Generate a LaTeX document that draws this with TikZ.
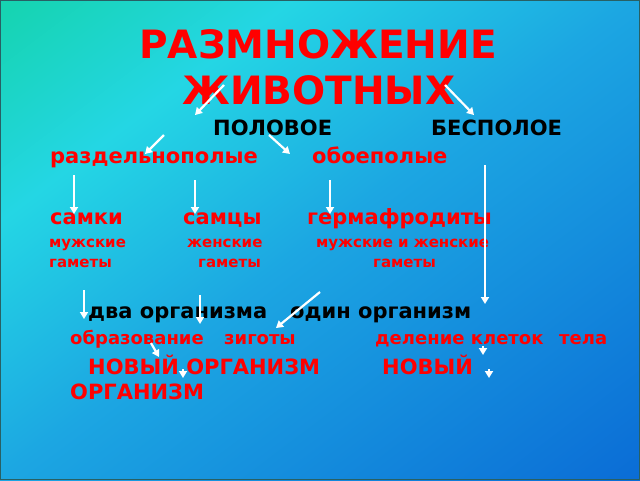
\documentclass[tikz,border=0pt]{standalone}
\usepackage{fontspec}
\setmainfont{DejaVu Sans}
\usetikzlibrary{arrows.meta}
\definecolor{bgteal}{RGB}{22,212,178}
\definecolor{bgcyan}{RGB}{36,214,228}
\definecolor{bgmid}{RGB}{28,166,226}
\definecolor{bgblue}{RGB}{8,100,212}
\definecolor{framec}{RGB}{40,96,100}
\pgfdeclarehorizontalshading{bgshade}{100bp}{color(0bp)=(bgteal); color(16bp)=(bgteal); color(31bp)=(bgcyan); color(50bp)=(bgmid); color(90bp)=(bgblue); color(100bp)=(bgblue)}

\begin{document}
\begin{tikzpicture}[x=1pt, y=-1pt,
		lbl/.style={inner sep=0pt, anchor=base west, font=\bfseries\fontsize{21}{25}\selectfont},
		redlbl/.style={lbl, text=red},
		blacklbl/.style={lbl, text=black},
		smalllbl/.style={redlbl, font=\bfseries\fontsize{15}{18}\selectfont},
		midlbl/.style={redlbl, font=\bfseries\fontsize{18}{22}\selectfont},
		biglbl/.style={redlbl, font=\bfseries\fontsize{21}{25}\selectfont},
		titlelbl/.style={inner sep=0pt, anchor=base, text=red, font=\bfseries\fontsize{39}{46}\selectfont},
		arr/.style={draw=white, line width=2.2pt, -{Triangle[width=8pt, length=7pt]}}]
	\useasboundingbox (0, 0) rectangle (640, 480);
	\shade[shading=bgshade, shading angle=-53] (0, 0) rectangle (640, 480);
	\draw[framec, line width=1pt] (0.5, 0.5) rectangle (639.5, 479.5);

	\draw (318, 58) 	node[titlelbl] 	(title_a) 	{РАЗМНОЖЕНИЕ};
	\draw (319, 104) 	node[titlelbl] 	(title_b) 	{ЖИВОТНЫХ};
	\draw (213, 135) 	node[blacklbl] 	(sex) 		{ПОЛОВОЕ};
	\draw (431, 135) 	node[blacklbl] 	(asex) 		{БЕСПОЛОЕ};
	\draw (50, 163) 	node[redlbl] 	(apart) 	{раздельнополые};
	\draw (312, 163) 	node[redlbl] 	(both) 		{обоеполые};
	\draw (50, 224) 	node[redlbl] 	(fem) 		{самки};
	\draw (183, 224) 	node[redlbl] 	(male) 		{самцы};
	\draw (307, 224) 	node[redlbl] 	(herm) 		{гермафродиты};
	\draw (49, 247) 	node[smalllbl] 	(fem_g) 	{мужские};
	\draw (49, 267) 	node[smalllbl] 	(fem_gg) 	{гаметы};
	\draw (187, 247) 	node[smalllbl] 	(male_g) 	{женские};
	\draw (198, 267) 	node[smalllbl] 	(male_gg) 	{гаметы};
	\draw (316, 247) 	node[smalllbl] 	(herm_g) 	{мужские и женские};
	\draw (373, 267) 	node[smalllbl] 	(herm_gg) 	{гаметы};
	\draw (88, 318) 	node[blacklbl] 	(two) 		{два организма};
	\draw (290, 318) 	node[blacklbl] 	(one) 		{один организм};
	\draw (70, 344) 	node[midlbl] 	(zyg_a) 	{образование};
	\draw (224, 344) 	node[midlbl] 	(zyg_b) 	{зиготы};
	\draw (375, 344) 	node[midlbl] 	(div_a) 	{деление клеток};
	\draw (559, 344) 	node[midlbl] 	(div_b) 	{тела};
	\draw (88, 374) 	node[biglbl] 	(new_a) 	{НОВЫЙ ОРГАНИЗМ};
	\draw (70, 399) 	node[biglbl] 	(new_aa) 	{ОРГАНИЗМ};
	\draw (382, 374) 	node[biglbl] 	(new_b) 	{НОВЫЙ};

	% arrow ends
	\coordinate (a1_s) at (224, 85);	\coordinate (a1_e) at (195, 115);
	\coordinate (a2_s) at (445, 85);	\coordinate (a2_e) at (474, 115);
	\coordinate (a3_s) at (164, 135);	\coordinate (a3_e) at (145, 154);
	\coordinate (a4_s) at (269, 135);	\coordinate (a4_e) at (290, 154);
	\coordinate (a5_s) at (74, 175);	\coordinate (a5_e) at (74, 214);
	\coordinate (a6_s) at (195, 180);	\coordinate (a6_e) at (195, 214);
	\coordinate (a7_s) at (330, 180);	\coordinate (a7_e) at (330, 214);
	\coordinate (a8_s) at (485, 165);	\coordinate (a8_e) at (485, 304);
	\coordinate (a9_s) at (84, 290);	\coordinate (a9_e) at (84, 319);
	\coordinate (a10_s) at (200, 295);	\coordinate (a10_e) at (200, 324);
	\coordinate (a11_s) at (320, 292);	\coordinate (a11_e) at (276, 328);
	\coordinate (a12_s) at (151, 343);	\coordinate (a12_e) at (159, 357);
	\coordinate (a13_s) at (183, 369);	\coordinate (a13_e) at (183, 378);
	\coordinate (a14_s) at (483, 346);	\coordinate (a14_e) at (483, 355);
	\coordinate (a15_s) at (489, 369);	\coordinate (a15_e) at (489, 378);

	\draw[arr] (a1_s) -- (a1_e);
	\draw[arr] (a2_s) -- (a2_e);
	\draw[arr] (a3_s) -- (a3_e);
	\draw[arr] (a4_s) -- (a4_e);
	\draw[arr] (a5_s) -- (a5_e);
	\draw[arr] (a6_s) -- (a6_e);
	\draw[arr] (a7_s) -- (a7_e);
	\draw[arr] (a8_s) -- (a8_e);
	\draw[arr] (a9_s) -- (a9_e);
	\draw[arr] (a10_s) -- (a10_e);
	\draw[arr] (a11_s) -- (a11_e);
	\draw[arr] (a12_s) -- (a12_e);
	\draw[arr] (a13_s) -- (a13_e);
	\draw[arr] (a14_s) -- (a14_e);
	\draw[arr] (a15_s) -- (a15_e);
\end{tikzpicture}
\end{document}
